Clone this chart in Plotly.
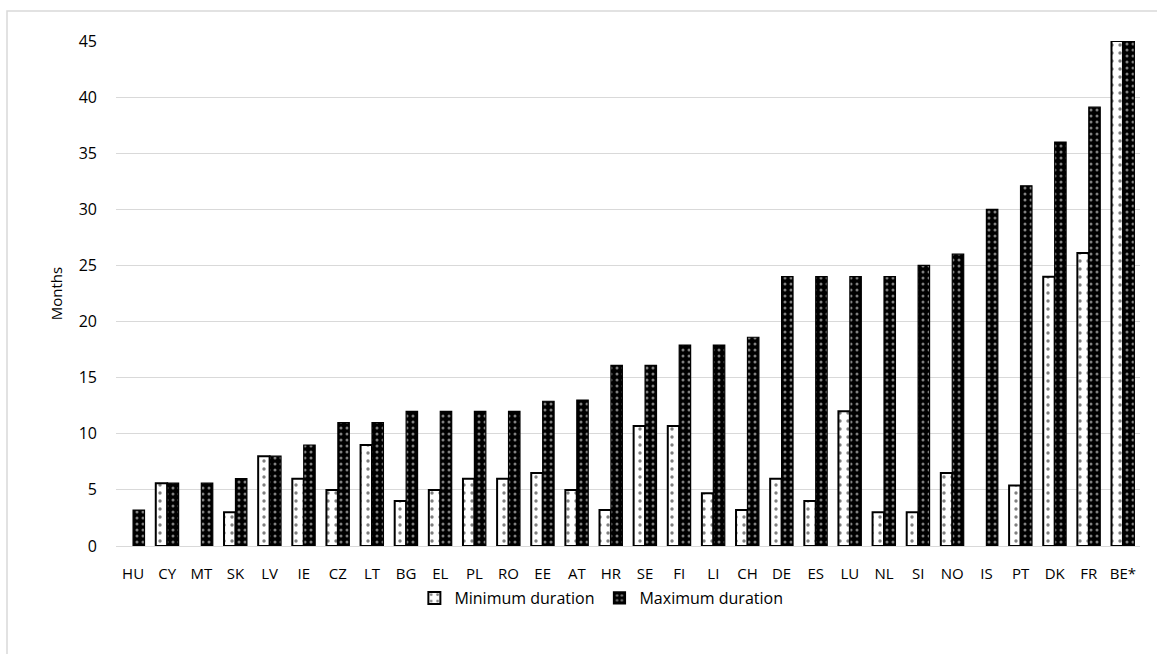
import plotly.graph_objects as go

# Countries, ordered by maximum duration
countries = ["HU", "CY", "MT", "SK", "LV", "IE", "CZ", "LT", "BG", "EL",
             "PL", "RO", "EE", "AT", "HR", "SE", "FI", "LI", "CH", "DE",
             "ES", "LU", "NL", "SI", "NO", "IS", "PT", "DK", "FR", "BE*"]

# Duration in months (None = not defined)
min_duration = [None, 5.6, None, 3, 8, 6, 5, 9, 4, 5,
                6, 6, 6.5, 5, 3.2, 10.7, 10.7, 4.7, 3.2, 6,
                4, 12, 3, 3, 6.5, None, 5.4, 24, 26.1, 45]
max_duration = [3.2, 5.6, 5.6, 6, 8, 9, 11, 11, 12, 12,
                12, 12, 12.9, 13, 16.1, 16.1, 17.9, 17.9, 18.6, 24,
                24, 24, 24, 25, 26, 30, 32.1, 36, 39.1, 45]

y_ticks = [0, 5, 10, 15, 20, 25, 30, 35, 40, 45]

W, H = 1157, 654
L, R, T, B = 116, 17, 41, 108
pw, ph = W - L - R, H - T - B

fig = go.Figure()
fig.add_trace(go.Bar(
    x=countries, y=min_duration, name="Minimum duration",
    marker=dict(color="white", line=dict(color="black", width=2),
                pattern=dict(shape=".", fgcolor="black", bgcolor="white",
                             size=8, solidity=0.14)),
))
fig.add_trace(go.Bar(
    x=countries, y=max_duration, name="Maximum duration",
    marker=dict(color="black", line=dict(color="black", width=1.2),
                pattern=dict(shape=".", fgcolor="white", bgcolor="black",
                             size=6, solidity=0.2)),
))

font = "Open Sans, Liberation Sans, sans-serif"
fig.update_layout(
    width=W, height=H,
    margin=dict(l=L, r=R, t=T, b=B),
    paper_bgcolor="white", plot_bgcolor="white",
    barmode="group", bargap=0.33, bargroupgap=0,
    font=dict(family=font, size=15, color="black"),
    showlegend=True,
    legend=dict(orientation="h", x=0.474, xanchor="center",
                y=-(598 - (H - B)) / ph, yanchor="middle",
                font=dict(size=16), itemwidth=30, traceorder="normal",
                bgcolor="rgba(0,0,0,0)"),
    xaxis=dict(type="category", showgrid=False, ticks="",
               showline=True, linecolor="#d9d9d9", linewidth=1,
               ticklabelstandoff=14, tickfont=dict(size=15)),
    yaxis=dict(range=[0, 45], tickvals=y_ticks, showgrid=True,
               gridcolor="#d9d9d9", gridwidth=1, zeroline=False,
               showline=False, ticks="", ticklabelstandoff=18,
               tickfont=dict(size=16),
               title=dict(text="Months", font=dict(size=15), standoff=12)),
    shapes=[dict(type="rect", xref="paper", yref="paper",
                 x0=(7 - L) / pw, x1=(W + 5 - L) / pw,
                 y0=-(H + 5 - (H - B)) / ph, y1=1 + (T - 11) / ph,
                 line=dict(color="#d9d9d9", width=1.5),
                 fillcolor="rgba(0,0,0,0)", layer="below")],
)

fig.write_html("out.html")
